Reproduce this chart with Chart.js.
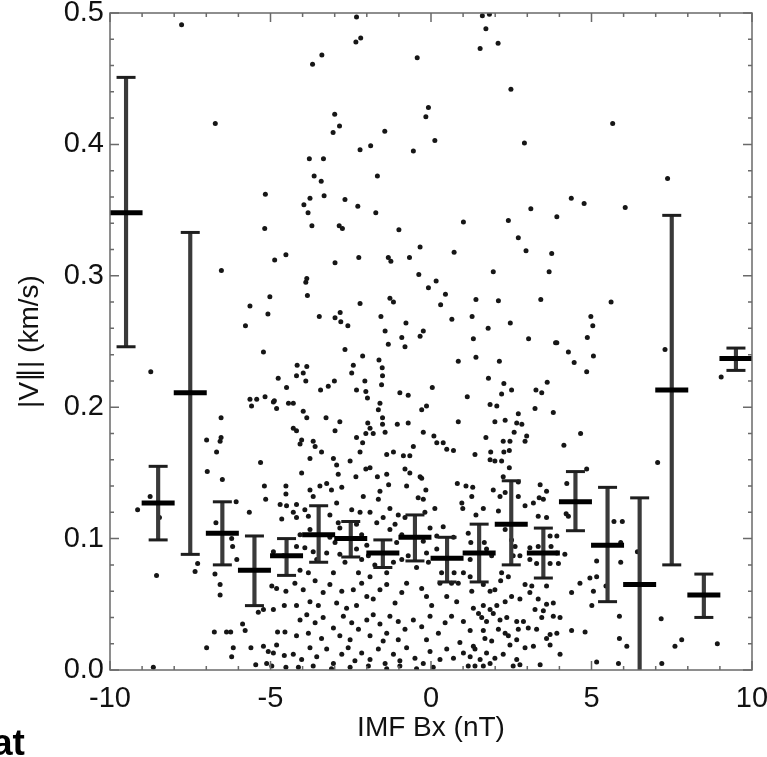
<!DOCTYPE html>
<html>
<head>
<meta charset="utf-8">
<script src="https://cdn.jsdelivr.net/npm/chart.js@4.4.1/dist/chart.umd.min.js"></script>
<style>
  html, body { margin: 0; padding: 0; background: #fff; overflow: hidden; }
  #wrap { position: relative; width: 767px; height: 757px; overflow: hidden; background: #fff; }
  #c { position: absolute; left: 0; top: 0; }
  #frag { position: absolute; left: -8px; top: 724px; font: bold 37px 'Liberation Sans', Arial, sans-serif; line-height: 37px; color: #000; }
</style>
</head>
<body>
<div id="wrap">
  <canvas id="c" width="767" height="757"></canvas>
  <div id="frag">at</div>
</div>
<script>
// ---- binned statistics (centre, mean, lower and upper error) ----
const binX    = [-9.5, -8.5, -7.5, -6.5, -5.5, -4.5, -3.5, -2.5, -1.5, -0.5, 0.5, 1.5, 2.5, 3.5, 4.5, 5.5, 6.5, 7.5, 8.5, 9.5];
const binMean = [0.348, 0.127, 0.211, 0.104, 0.076, 0.087, 0.103, 0.100, 0.089, 0.101, 0.085, 0.089, 0.111, 0.089, 0.128, 0.095, 0.065, 0.213, 0.057, 0.237];
const binLow  = [0.246, 0.099, 0.088, 0.080, 0.049, 0.072, 0.082, 0.086, 0.078, 0.083, 0.067, 0.067, 0.080, 0.070, 0.106, 0.052, -0.02, 0.080, 0.040, 0.228];
const binHigh = [0.451, 0.155, 0.333, 0.128, 0.102, 0.100, 0.125, 0.113, 0.099, 0.118, 0.101, 0.111, 0.144, 0.108, 0.151, 0.139, 0.131, 0.346, 0.073, 0.245];

// ---- tick labels ----
const xTickLabels = ['-10', '-5', '0', '5', '10'];
const yTickLabels = ['0.0', '0.1', '0.2', '0.3', '0.4', '0.5'];
const xTitle = 'IMF Bx (nT)';
const yTitle = '|V\u2225| (km/s)';

const ptsUpperLeft = [[-7.77,0.491],[-2.32,0.497],[-2.34,0.478],[-2.19,0.481],[-3.69,0.461],[-3.40,0.468],[-0.43,0.466],[-6.72,0.416],[-3.00,0.423],[-2.85,0.414],[-3.05,0.409],[-1.44,0.410],[-0.08,0.428],[-0.16,0.421],[-2.21,0.396],[-1.88,0.399],[-0.55,0.395],[-3.79,0.389],[-3.35,0.389],[-3.64,0.376],[-3.42,0.372],[-1.67,0.376],[-5.16,0.362],[-3.77,0.359],[-3.33,0.361],[-3.96,0.354],[-3.83,0.348],[-2.68,0.358],[-2.28,0.353],[-1.72,0.348],[-5.18,0.336],[-3.71,0.338],[-2.86,0.338],[-2.76,0.336],[-1.00,0.335],[-0.34,0.322],[-4.87,0.312],[-4.52,0.316],[-6.53,0.304],[-2.99,0.310],[-2.25,0.314],[-1.33,0.314],[-1.25,0.311],[-0.67,0.314],[-0.38,0.301],[-0.08,0.291],[-3.87,0.298],[-3.90,0.295],[-3.85,0.285],[-5.02,0.284],[-5.64,0.277],[-5.08,0.271],[-5.78,0.262],[-2.21,0.279],[-1.28,0.283],[-1.17,0.280],[-3.48,0.269],[-2.99,0.268],[-2.83,0.272],[-2.81,0.265],[-2.59,0.262],[-1.56,0.269],[-0.78,0.264],[-1.43,0.258],[-0.91,0.253],[-0.34,0.254],[-0.24,0.258]];
const ptsUpperRight = [[1.60,0.498],[1.82,0.499],[1.71,0.488],[1.53,0.473],[2.09,0.477],[2.49,0.442],[0.12,0.403],[2.91,0.401],[5.66,0.416],[7.37,0.374],[4.37,0.359],[4.77,0.355],[6.05,0.352],[3.11,0.351],[3.92,0.345],[1.01,0.341],[2.41,0.342],[2.72,0.329],[2.96,0.319],[3.76,0.317],[0.72,0.318],[1.94,0.303],[3.68,0.303],[0.16,0.296],[0.45,0.286],[0.30,0.278],[1.40,0.282],[2.10,0.281],[3.42,0.282],[5.61,0.280],[0.65,0.267],[1.28,0.269],[1.78,0.260],[2.47,0.264],[4.98,0.269],[5.04,0.262],[1.32,0.252],[3.04,0.252],[3.88,0.249],[4.87,0.253]];
const ptsLowerLeft = [[-5.22,0.242],[-8.73,0.227],[-4.76,0.222],[-4.50,0.215],[-5.64,0.206],[-5.43,0.206],[-5.59,0.201],[-5.17,0.208],[-4.88,0.205],[-4.81,0.199],[-4.91,0.204],[-4.44,0.203],[-6.54,0.192],[-6.99,0.175],[-6.54,0.177],[-6.57,0.174],[-6.68,0.166],[-6.97,0.151],[-6.50,0.145],[-5.31,0.158],[-5.19,0.140],[-5.15,0.130],[-4.52,0.140],[-4.52,0.134],[-4.70,0.126],[-4.50,0.125],[-5.66,0.120],[-4.65,0.115],[-9.14,0.122],[-8.75,0.132],[-8.46,0.116],[-8.55,0.072],[-6.70,0.112],[-6.07,0.128],[-6.21,0.100],[-6.18,0.094],[-6.05,0.084],[-7.27,0.081],[-7.35,0.075],[-6.73,0.073],[-6.57,0.065],[-6.57,0.057],[-4.91,0.090],[-4.60,0.087],[-4.96,0.064],[-4.81,0.062],[-4.52,0.060],[-4.57,0.049],[-5.38,0.044],[-5.22,0.046],[-4.91,0.046],[-5.87,0.035],[-5.79,0.030],[-6.75,0.029],[-6.37,0.029],[-6.24,0.029],[-4.78,0.029],[-4.55,0.029],[-6.99,0.017],[-6.16,0.017],[-6.21,0.010],[-5.61,0.017],[-5.22,0.018],[-5.07,0.014],[-4.91,0.013],[-4.81,0.019],[-4.57,0.011],[-5.46,0.004],[-5.12,0.005],[-4.96,0.003],[-4.52,0.002],[-8.65,0.002]];
const ptsLowerCentre = [[-2.68,0.244],[-2.13,0.239],[-1.62,0.236],[-0.81,0.246],[-1.33,0.248],[-4.17,0.232],[-3.87,0.231],[-3.98,0.226],[-4.19,0.224],[-2.42,0.232],[-2.47,0.226],[-1.52,0.230],[-1.51,0.224],[-3.90,0.220],[-3.44,0.213],[-3.20,0.216],[-3.01,0.220],[-2.32,0.213],[-2.06,0.220],[-2.03,0.212],[-1.98,0.207],[-1.54,0.217],[-0.97,0.211],[-0.71,0.209],[0.04,0.215],[-4.29,0.203],[-1.59,0.203],[-1.64,0.198],[-0.14,0.201],[-0.29,0.198],[-3.98,0.197],[-3.87,0.192],[-3.27,0.192],[-2.84,0.189],[-1.97,0.188],[-1.90,0.184],[-1.51,0.192],[-1.51,0.187],[-1.05,0.187],[-0.71,0.188],[-4.29,0.184],[-4.19,0.182],[-2.99,0.182],[-2.03,0.180],[-1.80,0.180],[-1.43,0.181],[-0.24,0.181],[0.09,0.178],[0.38,0.173],[0.49,0.168],[-4.03,0.175],[-3.67,0.174],[-4.08,0.172],[-2.32,0.177],[-2.13,0.173],[0.18,0.173],[-3.61,0.170],[-3.41,0.166],[-2.21,0.166],[-1.38,0.164],[-1.17,0.166],[-0.86,0.163],[-0.66,0.163],[-0.55,0.170],[-3.77,0.161],[-3.04,0.161],[-2.94,0.156],[-2.52,0.159],[-2.03,0.153],[-1.90,0.154],[-2.89,0.149],[-2.34,0.147],[-1.67,0.147],[-1.38,0.149],[-0.81,0.153],[-0.66,0.150],[-0.34,0.147],[-4.03,0.150],[-3.77,0.137],[-3.67,0.132],[-3.46,0.140],[-3.25,0.142],[-3.10,0.137],[-2.78,0.139],[-2.11,0.132],[-1.64,0.130],[-1.59,0.136],[-1.32,0.141],[-0.76,0.140],[-0.29,0.146],[-0.16,0.137],[-0.40,0.131],[-0.24,0.130],[-4.19,0.126],[-4.29,0.120],[-3.93,0.122],[-2.94,0.127],[-2.47,0.122],[-2.21,0.120],[-1.90,0.120],[-1.28,0.123],[-1.02,0.118],[-0.81,0.116],[0.12,0.123],[-0.19,0.120],[-4.19,0.116],[-3.82,0.117],[-3.15,0.118],[-2.89,0.112],[-2.84,0.108],[-2.32,0.111],[-2.16,0.103],[-1.69,0.112],[-1.49,0.116],[-1.28,0.107],[-1.12,0.111],[-0.91,0.103],[-0.03,0.108],[0.18,0.102],[-4.08,0.103],[-3.77,0.107],[-3.15,0.101],[-2.99,0.097],[-2.00,0.095],[-1.07,0.097],[-0.24,0.098],[0.38,0.109],[-4.19,0.094],[-3.93,0.093],[-3.67,0.090],[-3.56,0.084],[-3.25,0.089],[-2.84,0.088],[-2.68,0.082],[-2.32,0.092],[-2.16,0.084],[-1.95,0.087],[-1.75,0.080],[-1.38,0.074],[-1.17,0.082],[-0.91,0.084],[-0.71,0.087],[-0.45,0.078],[-0.14,0.089],[-0.08,0.082],[0.18,0.092],[0.33,0.074],[-4.08,0.076],[-3.82,0.074],[-3.04,0.074],[-2.26,0.074],[-1.90,0.071],[-4.24,0.066],[-3.98,0.061],[-3.61,0.068],[-3.36,0.059],[-3.15,0.065],[-2.78,0.060],[-2.42,0.061],[-2.16,0.066],[-2.00,0.056],[-1.80,0.054],[-1.59,0.061],[-1.38,0.065],[-1.12,0.051],[-0.91,0.059],[-0.76,0.066],[-0.29,0.062],[-0.14,0.056],[0.02,0.049],[0.28,0.066],[0.49,0.056],[-4.19,0.049],[-3.77,0.052],[-3.51,0.049],[-2.94,0.051],[-2.63,0.047],[-2.32,0.049],[-4.08,0.038],[-3.87,0.042],[-3.61,0.036],[-3.36,0.040],[-3.04,0.032],[-2.73,0.041],[-2.47,0.036],[-2.26,0.031],[-2.00,0.038],[-1.80,0.042],[-1.59,0.035],[-1.38,0.028],[-1.28,0.041],[-1.02,0.037],[-0.81,0.031],[-0.55,0.038],[-0.29,0.033],[-0.03,0.041],[0.23,0.028],[0.44,0.036],[-4.19,0.026],[-3.82,0.028],[-3.41,0.024],[-2.84,0.026],[-2.52,0.023],[-1.90,0.026],[-1.49,0.022],[-1.02,0.023],[-0.14,0.023],[-4.29,0.012],[-4.03,0.008],[-3.77,0.017],[-3.56,0.010],[-3.25,0.016],[-3.04,0.005],[-2.78,0.012],[-2.58,0.017],[-2.37,0.007],[-2.16,0.013],[-1.90,0.008],[-1.64,0.016],[-1.43,0.005],[-1.17,0.012],[-0.97,0.007],[-0.76,0.017],[-0.50,0.009],[-0.24,0.005],[-0.03,0.014],[0.28,0.008],[0.49,0.016],[-4.13,0.002],[-3.67,0.003],[-3.10,0.001],[-2.52,0.002],[-1.95,0.003],[-1.38,0.001],[-0.97,0.003],[-0.45,0.001],[0.07,0.002]];
const ptsLowerRight = [[0.85,0.235],[1.40,0.238],[2.13,0.235],[3.92,0.249],[4.28,0.242],[4.46,0.234],[5.06,0.239],[4.85,0.227],[1.79,0.222],[2.27,0.218],[2.51,0.213],[2.20,0.210],[1.13,0.208],[3.27,0.213],[3.45,0.211],[3.62,0.219],[1.84,0.202],[2.05,0.201],[3.24,0.199],[3.81,0.196],[2.72,0.195],[0.85,0.189],[1.99,0.189],[2.31,0.190],[2.67,0.188],[2.83,0.187],[2.59,0.181],[4.66,0.180],[2.98,0.178],[1.71,0.177],[2.25,0.174],[2.46,0.174],[2.93,0.174],[0.70,0.167],[1.37,0.164],[1.86,0.166],[2.27,0.166],[2.44,0.167],[4.14,0.171],[1.84,0.160],[1.99,0.159],[2.20,0.159],[2.44,0.154],[4.85,0.153],[2.25,0.147],[2.72,0.143],[0.82,0.142],[1.09,0.140],[1.30,0.139],[1.27,0.132],[1.94,0.137],[2.15,0.132],[2.31,0.135],[2.72,0.132],[3.40,0.141],[3.60,0.136],[3.37,0.131],[3.19,0.127],[3.50,0.130],[0.96,0.127],[0.99,0.123],[1.63,0.123],[1.40,0.118],[4.23,0.142],[4.21,0.119],[4.28,0.117],[2.10,0.121],[2.93,0.125],[3.60,0.116],[3.34,0.117],[0.70,0.101],[1.16,0.104],[1.24,0.097],[1.66,0.097],[1.73,0.092],[1.89,0.087],[1.22,0.084],[2.31,0.107],[2.51,0.099],[2.62,0.094],[2.56,0.087],[2.77,0.087],[3.08,0.093],[3.34,0.094],[3.71,0.102],[3.92,0.102],[3.74,0.094],[3.92,0.089],[4.17,0.088],[3.08,0.084],[3.29,0.081],[3.71,0.081],[3.97,0.081],[0.72,0.074],[1.01,0.074],[0.64,0.066],[0.85,0.066],[1.22,0.071],[1.27,0.060],[1.63,0.065],[1.84,0.060],[1.99,0.061],[2.20,0.074],[2.17,0.068],[2.41,0.071],[2.93,0.065],[3.14,0.064],[3.08,0.059],[3.60,0.064],[2.77,0.054],[2.51,0.056],[2.31,0.052],[2.05,0.049],[1.84,0.046],[1.63,0.049],[1.32,0.047],[0.80,0.052],[3.34,0.054],[3.60,0.050],[3.81,0.051],[4.64,0.066],[4.38,0.059],[5.06,0.060],[5.16,0.071],[4.95,0.070],[5.16,0.083],[5.01,0.049],[3.50,0.045],[0.64,0.041],[1.01,0.037],[1.48,0.043],[1.58,0.040],[1.73,0.037],[1.94,0.043],[2.15,0.038],[2.36,0.040],[2.67,0.037],[2.88,0.037],[3.24,0.046],[3.45,0.040],[3.81,0.041],[4.02,0.040],[1.22,0.030],[1.63,0.030],[2.10,0.031],[2.31,0.028],[2.72,0.031],[3.03,0.032],[3.29,0.031],[3.71,0.027],[3.92,0.028],[3.60,0.024],[4.38,0.030],[4.80,0.029],[0.90,0.021],[1.32,0.018],[1.68,0.024],[1.89,0.022],[2.41,0.026],[2.67,0.023],[2.46,0.019],[2.93,0.017],[3.19,0.018],[3.71,0.019],[1.01,0.013],[1.37,0.016],[1.73,0.013],[0.70,0.009],[1.22,0.010],[1.53,0.008],[1.99,0.009],[2.25,0.012],[2.67,0.008],[2.77,0.004],[1.84,0.005],[4.02,0.012],[1.16,0.003],[1.37,0.003],[1.63,0.003],[2.56,0.003],[3.40,0.004],[5.16,0.006]];
const ptsFarRight = [[7.29,0.244],[9.04,0.223],[7.06,0.158],[5.70,0.113],[5.96,0.113],[5.91,0.097],[6.43,0.090],[5.91,0.082],[5.45,0.064],[5.87,0.041],[7.17,0.039],[5.87,0.024],[6.10,0.018],[7.60,0.018],[7.81,0.023],[8.92,0.020],[5.84,0.005],[7.19,0.005]];

const allPoints = [].concat(ptsUpperLeft, ptsUpperRight, ptsLowerLeft, ptsLowerCentre, ptsLowerRight, ptsFarRight);

const FONT = "'Liberation Sans', Arial, Helvetica, sans-serif";

const framePlugin = {
  id: 'idlFrame',
  afterDatasetsDraw(chart) {
    const { ctx, chartArea: { left, right, top, bottom }, scales: { x, y } } = chart;
    ctx.save();
    ctx.strokeStyle = '#6a6a6a';
    ctx.lineWidth = 1.5;
    ctx.strokeRect(left, top, right - left, bottom - top);
    ctx.beginPath();
    for (let v = x.min; v <= x.max; v += 1) {
      const px = x.getPixelForValue(v);
      const len = (Math.round(v) % 5 === 0) ? 9 : 4;
      ctx.moveTo(px, bottom); ctx.lineTo(px, bottom - len);
      ctx.moveTo(px, top); ctx.lineTo(px, top + len);
    }
    for (let i = 0; i <= 25; i++) {
      const py = y.getPixelForValue(y.min + i * 0.02);
      const len = (i % 5 === 0) ? 9 : 4;
      ctx.moveTo(left, py); ctx.lineTo(left + len, py);
      ctx.moveTo(right, py); ctx.lineTo(right - len, py);
    }
    ctx.stroke();
    ctx.restore();
  }
};

new Chart(document.getElementById('c'), {
  type: 'scatter',
  data: {
    datasets: [
      {
        label: 'mean',
        data: binX.map((x, i) => ({ x: x, y: binMean[i] })),
        pointStyle: 'line',
        pointRadius: 16.5,
        pointBorderWidth: 5,
        pointBorderColor: '#000',
        pointBackgroundColor: '#000',
        order: 0
      },
      {
        label: 'upper cap',
        data: binX.map((x, i) => ({ x: x, y: binHigh[i] })),
        pointStyle: 'line',
        pointRadius: 9.5,
        pointBorderWidth: 3,
        pointBorderColor: '#1e1e1e',
        clip: 0,
        order: 1
      },
      {
        label: 'lower cap',
        data: binX.map((x, i) => ({ x: x, y: binLow[i] })),
        pointStyle: 'line',
        pointRadius: 9.5,
        pointBorderWidth: 3,
        pointBorderColor: '#1e1e1e',
        clip: 0,
        order: 1
      },
      {
        type: 'bar',
        label: 'range',
        data: binX.map((x, i) => ({ x: x, y: [binLow[i], binHigh[i]] })),
        backgroundColor: '#3a3a3a',
        borderWidth: 0,
        barThickness: 3.5,
        grouped: false,
        clip: 0,
        order: 2
      },
      {
        label: 'samples',
        data: allPoints.map(p => ({ x: p[0], y: p[1] })),
        pointStyle: 'circle',
        pointRadius: 2.5,
        pointBorderWidth: 0,
        pointBackgroundColor: '#161616',
        order: 5
      }
    ]
  },
  options: {
    responsive: false,
    animation: false,
    devicePixelRatio: 1,
    events: [],
    layout: { autoPadding: false, padding: { left: 0, right: 15, top: 13, bottom: 0 } },
    plugins: { legend: { display: false }, tooltip: { enabled: false } },
    scales: {
      x: {
        type: 'linear',
        min: -10, max: 10,
        offset: false,
        grid: { display: false, drawTicks: false },
        border: { display: false },
        ticks: {
          stepSize: 5,
          autoSkip: false,
          maxRotation: 0,
          padding: 12,
          color: '#111',
          font: { family: FONT, size: 29 },
          callback: (v) => xTickLabels[Math.round((v + 10) / 5)]
        },
        title: {
          display: true,
          text: xTitle,
          color: '#111',
          font: { family: FONT, size: 28 },
          padding: { top: 0, bottom: 12 }
        },
        afterFit: (s) => { s.height = 87; s.paddingLeft = 0; s.paddingRight = 0; }
      },
      y: {
        type: 'linear',
        min: 0, max: 0.5,
        grid: { display: false, drawTicks: false },
        border: { display: false },
        ticks: {
          stepSize: 0.1,
          autoSkip: false,
          padding: 6,
          color: '#111',
          font: { family: FONT, size: 29 },
          callback: (v) => yTickLabels[Math.round(v * 10)]
        },
        title: {
          display: true,
          text: yTitle,
          color: '#111',
          font: { family: FONT, size: 28 },
          padding: { top: 13, bottom: 0 }
        },
        afterFit: (s) => { s.width = 110; s.paddingTop = 0; s.paddingBottom = 0; }
      }
    }
  },
  plugins: [framePlugin]
});
</script>
</body>
</html>
